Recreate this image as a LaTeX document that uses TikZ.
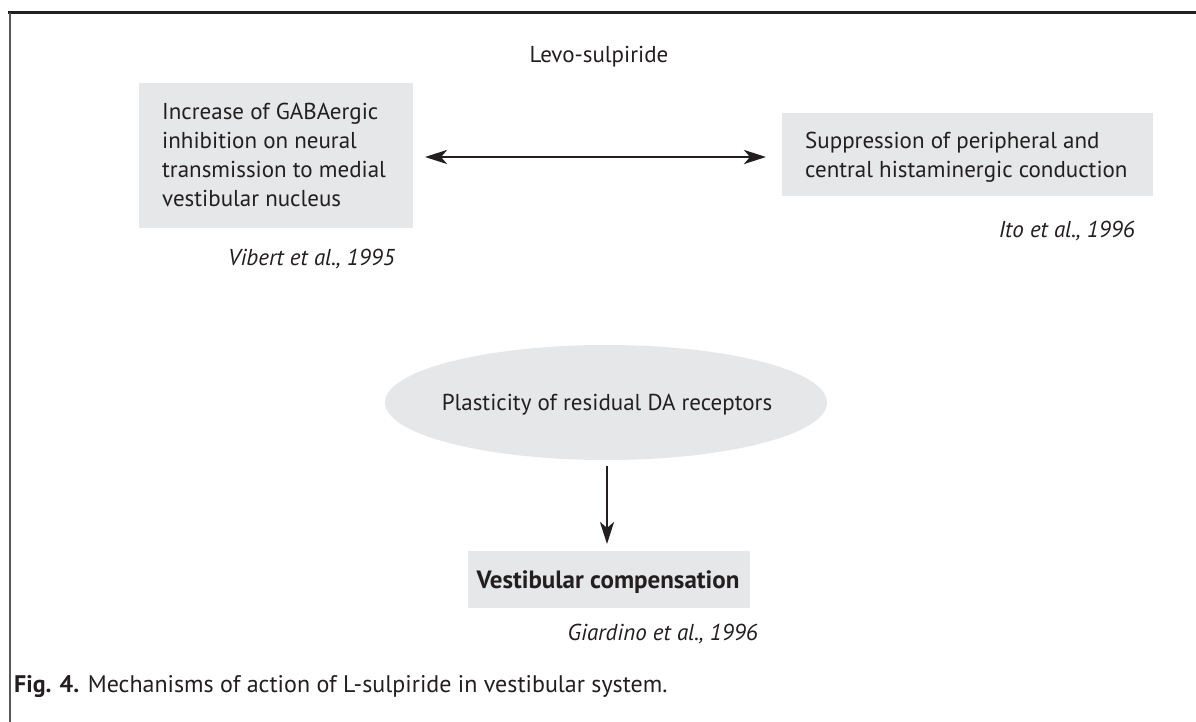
\documentclass[tikz,border=0pt]{standalone}
\usepackage{fontspec}
\setmainfont{PT Sans}
\usetikzlibrary{arrows.meta}
\definecolor{txt}{HTML}{231F20}
\definecolor{boxfill}{HTML}{E6E7E8}
\begin{document}
\begin{tikzpicture}[x=1pt,y=-1pt,
  every node/.style={text=txt,font=\fontsize{23}{29}\selectfont,inner sep=0pt},
  cite/.style={font=\fontsize{23}{29}\selectfont\itshape},
  conn/.style={draw=txt,line width=2.8pt,-{Stealth[length=22pt,width=14pt,inset=6pt]}},
  conn2/.style={draw=txt,line width=2.8pt,{Stealth[length=22pt,width=14pt,inset=6pt]}-{Stealth[length=22pt,width=14pt,inset=6pt]}}]
\useasboundingbox (0,0) rectangle (1196,722);
\fill[white] (0,0) rectangle (1196,722);
% frame
\draw[draw=txt,line width=3pt] (8,13) -- (1196,13);
\draw[draw=txt!75,line width=1.3pt] (10,13) -- (10,722);
% title
\node[anchor=base] (title) at (599,63) {Levo-sulpiride};
% left box
\fill[fill=boxfill] (139,83) rectangle (413,228);
\node[anchor=base west,align=left] (left) at (162,207) {Increase of GABAergic\\inhibition on neural\\transmission to medial\\vestibular nucleus};
\node[cite,anchor=base east] (vibert) at (395,265) {Vibert et al., 1995};
% right box
\fill[fill=boxfill] (782,113) rectangle (1153,196);
\node[anchor=base west,align=left] (right) at (805,178) {Suppression of peripheral and\\central histaminergic conduction};
\node[cite,anchor=base east] (ito) at (1135,237) {Ito et al., 1996};
% double arrow
\coordinate (aL) at (425,157);
\coordinate (aR) at (766,157);
\draw[conn2] (aL) -- (aR);
% ellipse
\fill[fill=boxfill] (606,402.5) ellipse [x radius=221, y radius=57.5];
\node[anchor=base] (plast) at (607,410) {Plasticity of residual DA receptors};
\coordinate (eb) at (607,466);
% bottom box
\fill[fill=boxfill] (468,551) rectangle (750,608);
\node[anchor=base,font=\fontsize{25}{29}\selectfont\bfseries] (vc) at (608,588) {Vestibular compensation};
\coordinate (vt) at (607,544);
\draw[conn] (eb) -- (vt);
\node[cite,anchor=base east] (giar) at (758,640) {Giardino et al., 1996};
% caption
\node[anchor=base west,font=\fontsize{24}{29}\selectfont] (cap) at (14,692) {\textbf{Fig. 4.} Mechanisms of action of L-sulpiride in vestibular system.};
\end{tikzpicture}
\end{document}
